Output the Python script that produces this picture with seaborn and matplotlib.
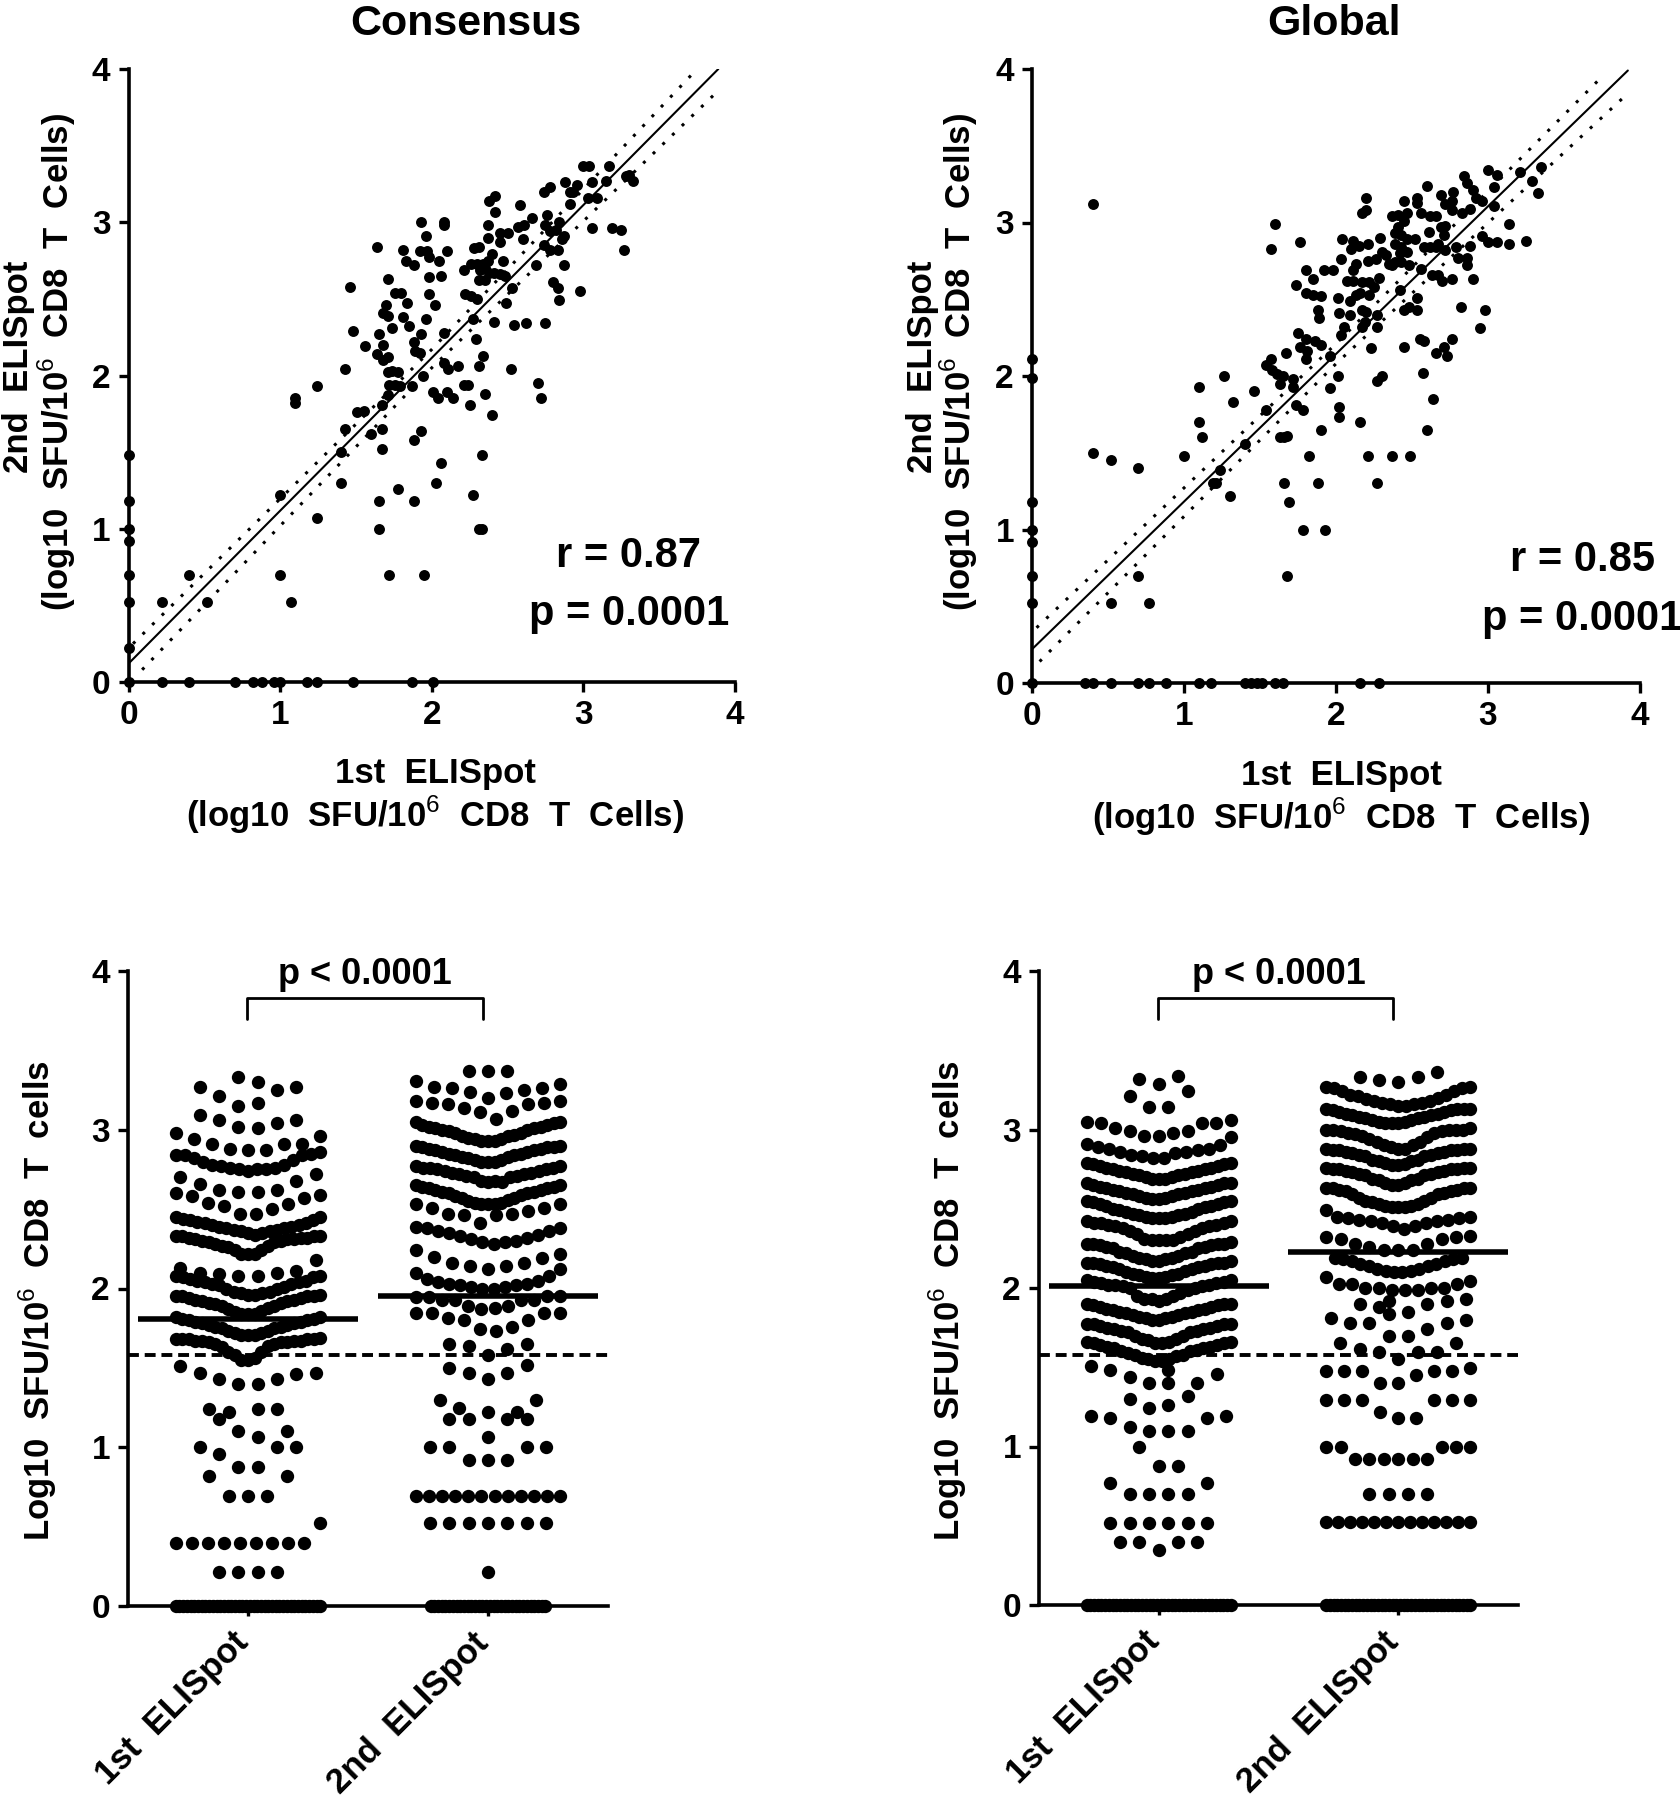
#!/usr/bin/env python3
"""Repeat ELISpot plots: 1st vs 2nd scatter and per-test dot columns, Consensus and Global."""
import matplotlib
matplotlib.use("Agg")
import matplotlib.pyplot as plt
from matplotlib.transforms import ScaledTranslation
import numpy as np
import seaborn as sns

W, H = 1680, 1800
FONT = "Liberation Sans"

# --- scatter panels: 1st ELISpot (x), 2nd ELISpot (y), log10 SFU
cons_x = [0,0,0,0,0,0,0,0, .22,.40,.70,.82,.88,.96,1.0,1.18,1.24,1.48,1.87,2.01,
          .22,.40,.52,1.0,1.07,1.0,1.24,1.10,1.10,1.24,1.40,1.40,1.43,1.43,1.46,1.48,1.51,1.55,1.56,1.60,
          1.64,1.65,1.65,1.65,1.67,1.67,1.67,1.68,1.64,1.68,1.71,1.71,1.70,1.68,1.71,1.74,1.71,1.74,1.78,
          1.72,1.76,1.79,1.71,1.72,1.78,1.76,1.80,1.81,1.83,1.88,1.84,1.81,1.85,1.88,1.89,1.92,1.93,1.87,
          1.88,1.93,1.88,1.95,1.93,1.96,1.92,1.97,1.98,2.05,2.10,1.98,2.06,1.98,2.02,1.96,1.94,2.01,2.04,
          2.08,2.08,2.08,2.08,2.11,2.17,2.10,2.14,2.03,2.06,2.21,2.24,2.25,2.27,2.31,2.33,2.33,2.35,2.40,
          2.31,2.34,2.29,2.27,2.22,2.26,2.30,2.21,2.26,2.30,2.34,2.37,2.40,2.28,2.31,2.32,2.35,2.38,2.41,
          2.45,2.48,2.31,2.35,2.47,2.37,2.37,2.38,2.42,2.42,2.45,2.50,2.45,2.53,2.49,2.41,2.54,2.62,2.52,
          2.75,2.70,2.72,2.58,2.57,2.61,2.66,2.60,2.74,2.78,2.76,2.75,2.78,2.82,2.84,2.74,2.78,2.83,2.87,
          2.86,2.69,2.87,2.80,2.83,2.84,2.98,2.88,2.91,2.96,2.93,2.91,3.06,3.03,3.09,3.0,3.04,3.17,3.15,
          3.06,3.19,3.25,3.27,3.28,3.33,3.30]
cons_y = [0,1.48,1.18,1.0,.92,.70,.52,.22, 0,0,0,0,0,0,0,0,0,0,0,0,
          .52,.70,.52,.70,.52,1.22,1.07,1.85,1.82,1.93,1.50,1.30,2.04,1.65,2.58,2.29,1.76,1.77,2.19,1.62,
          2.84,2.27,1.18,1.0,1.81,1.65,1.52,2.20,2.14,2.10,2.12,2.63,2.46,2.41,2.39,2.31,2.02,2.03,2.02,
          1.94,1.94,1.93,1.87,.70,1.26,2.54,2.54,2.82,2.75,2.72,2.47,2.38,2.32,2.22,2.16,2.15,2.27,1.93,
          1.58,1.64,1.18,.70,3.00,2.91,2.81,2.81,2.77,2.75,2.81,2.64,2.65,2.53,2.46,2.37,2.00,1.89,1.85,
          3.00,2.98,2.28,2.08,2.04,2.06,1.89,1.85,1.30,1.43,1.94,1.94,1.81,1.22,1.0,1.0,1.48,1.88,1.74,
          2.06,2.13,2.24,2.37,2.53,2.52,2.50,2.69,2.73,2.73,2.73,2.75,2.79,2.83,2.84,2.69,2.70,2.67,2.67,
          2.66,2.65,2.62,2.62,2.75,2.90,2.98,3.14,3.17,3.07,2.93,2.93,2.87,2.57,2.47,2.35,2.33,2.34,2.04,
          2.34,1.95,1.85,3.11,2.97,2.98,3.03,2.89,3.20,3.23,3.05,2.98,2.94,2.95,3.0,2.85,2.82,2.82,2.91,
          2.89,2.72,2.72,2.61,2.57,2.49,2.55,3.26,3.20,3.24,3.20,3.12,3.26,3.16,3.16,3.37,3.37,3.37,3.27,
          2.96,2.96,2.95,2.82,3.30,3.27,3.31]

glob_x = [0,0,0,0,0,0,0,0, .35,.40,.52,.70,.77,.88,1.10,1.18,1.40,1.44,1.48,1.51,1.60,1.65,2.16,2.28,
          .40,.40,.52,.70,.70,.52,.77,1.0,1.10,1.10,1.12,1.19,1.21,1.24,1.26,1.32,1.30,1.40,1.46,1.54,
          1.54,1.57,1.58,1.61,1.65,1.63,1.57,1.60,1.63,1.66,1.68,1.66,1.69,1.68,1.67,1.72,1.72,1.74,1.78,
          1.78,1.82,1.88,1.90,1.93,1.75,1.80,1.76,1.81,1.80,1.86,1.90,1.96,2.01,1.96,2.02,2.02,1.76,1.80,
          1.85,1.74,1.80,1.85,1.90,1.92,1.98,1.88,1.89,2.01,2.02,2.09,2.05,2.03,2.16,2.21,2.27,2.37,2.49,
          2.27,2.30,2.23,2.27,2.17,2.19,2.17,2.20,2.09,2.13,2.16,2.27,2.22,2.25,2.28,2.07,2.11,2.17,2.22,
          2.11,2.13,2.03,2.04,2.10,2.11,2.15,2.21,2.21,2.26,2.30,2.33,2.29,2.17,2.20,2.20,2.35,2.39,2.43,
          2.48,2.37,2.39,2.43,2.47,2.42,2.39,2.43,2.52,2.47,2.37,2.41,2.47,2.45,2.41,2.45,2.53,2.53,2.60,
          2.69,2.56,2.62,2.66,2.61,2.58,2.62,2.67,2.71,2.69,2.72,2.72,2.79,2.66,2.72,2.77,2.76,2.76,2.83,
          2.88,2.84,2.86,2.90,2.92,2.96,2.80,2.86,2.86,2.88,2.63,2.67,2.70,2.76,2.90,2.56,2.42,2.53,2.45,
          2.48,2.53,2.45,2.55,2.58,2.57,2.64,2.60,2.66,2.71,2.73,2.76,2.82,2.98,2.95,2.96,3.0,3.06,3.14,
          3.14,3.25,3.0,3.06,3.04,3.04,3.21,3.29,3.35,3.33]
glob_y = [0,2.11,1.99,1.18,1.0,.92,.70,.52, 0,0,0,0,0,0,0,0,0,0,0,0,0,0,0,0,
          3.12,1.50,1.45,1.40,.70,.52,.52,1.48,1.93,1.70,1.60,1.30,1.30,1.39,2.0,1.83,1.22,1.56,1.90,1.78,
          2.07,2.11,2.04,2.01,2.0,1.95,2.83,2.99,1.60,1.60,1.61,1.30,1.18,.70,2.15,1.98,1.93,1.81,1.78,
          1.0,1.48,1.30,1.65,1.0,2.28,2.24,2.19,2.16,2.11,2.23,2.20,2.13,2.0,1.92,1.80,1.73,2.87,2.69,
          2.63,2.59,2.54,2.53,2.52,2.69,2.69,2.43,2.38,2.51,2.41,2.40,2.32,2.27,1.70,1.48,1.30,1.48,1.48,
          1.97,2.0,2.18,2.32,2.32,2.35,2.43,2.42,2.49,2.53,2.54,2.40,2.53,2.58,2.64,2.62,2.62,2.61,2.61,
          2.69,2.73,2.76,2.89,2.83,2.88,2.85,2.86,2.75,2.76,2.81,2.79,2.90,3.06,3.08,3.16,2.73,2.74,2.74,
          2.72,2.72,2.86,2.84,2.81,2.80,2.93,2.92,2.89,2.89,3.04,3.05,3.06,3.01,2.97,3.14,3.16,3.13,3.24,
          3.18,3.06,3.04,3.04,2.94,2.84,2.84,2.86,2.92,2.97,2.98,2.82,2.84,2.84,3.12,3.20,3.14,3.08,3.06,
          3.09,3.30,3.26,3.21,3.16,3.14,2.77,2.77,2.72,2.85,2.66,2.66,2.62,2.63,2.63,2.70,2.56,2.51,2.43,
          2.45,2.43,2.19,2.24,2.23,2.02,1.85,1.65,2.15,2.19,2.13,2.24,2.45,2.43,2.31,2.91,2.87,2.87,2.99,
          2.86,2.88,3.34,3.31,3.23,3.11,3.33,3.27,3.36,3.19]

# regression line and its confidence limits
cons_fit_x, cons_fit_y = [0, 3.89], [.12, 4.0]
cons_hi_x, cons_hi_y = [.03, 2.0, 3.74], [.25, 2.17, 3.99]
cons_lo_x, cons_lo_y = [.09, 2.0, 3.87], [.08, 2.05, 3.84]
glob_fit_x, glob_fit_y = [0, 3.92], [.22, 3.99]
glob_hi_x, glob_hi_y = [.03, 2.0, 3.75], [.36, 2.21, 3.95]
glob_lo_x, glob_lo_y = [.05, 2.0, 3.93], [.14, 2.08, 3.85]

# --- dot columns, one list per row of dots, left to right (None is an empty slot)
cons_1st = [
    [3.27,3.21,3.33,3.30,3.25,3.27],
    [3.09,3.06,3.02,3.01,3.04,3.06],
    [3.15,3.17],
    [2.98,2.94,2.91,2.88,2.87,2.87,2.91,2.91,2.96],
    [2.84,2.84,2.82,2.80,2.78,2.77,2.76,2.75,2.74,2.75,2.75,2.76,2.78,2.81,2.84,2.85,2.86],
    [2.70,2.66,2.62,2.61,2.61,2.62,2.68,2.72],
    [2.60,2.58,2.54,2.52,2.47,2.47,2.50,2.53,2.57,2.59],
    [2.45,2.44,2.43,2.42,2.41,2.40,2.39,2.38,2.37,2.36,2.35,2.34,2.35,2.36,2.37,2.38,2.39,2.40,2.41,2.43,2.45],
    [2.33,2.33,2.32,2.31,2.30,2.29,2.28,2.27,2.26,2.24,2.22,2.22,2.22,2.24,2.27,2.29,2.30,2.31,2.31,2.32,2.32,2.33,2.33],
    [2.13,2.10,2.09,2.08,2.08,2.10,2.11,2.18],
    [2.08,2.07,2.06,2.05,2.04,2.03,2.02,2.00,1.98,1.97,1.96,1.96,1.97,1.98,2.00,2.01,2.03,2.04,2.05,2.07,2.08],
    [1.95,1.95,1.94,1.93,1.92,1.91,1.90,1.89,1.87,1.85,1.84,1.84,1.84,1.86,1.88,1.89,1.91,1.92,1.93,1.94,1.95,1.95,1.96],
    [1.82,1.81,1.80,1.79,1.78,1.77,1.76,1.75,1.73,1.72,1.71,1.71,1.71,1.72,1.73,1.75,1.76,1.77,1.78,1.79,1.80,1.81,1.82],
    [1.68,1.68,1.68,1.67,1.67,1.66,1.65,1.63,1.60,1.58,1.55,1.55,1.56,1.60,1.64,1.65,1.66,1.66,1.67,1.67,1.68,1.68,1.69],
    [1.51,1.47,1.43,1.40,1.40,1.43,1.46,1.47],
    [1.24,1.22,None,None,None],
    [None,1.18,None,1.24,1.24,None],
    [None,None,1.10,1.065,None,None],
    [None,None,None,None,1.10],
    [1.0,.955,None,None,1.0,1.0],
    [.875,.875],
    [.817,None,None,None,.817],
    [.695,.695,.695],
    [.40,.40,.40,.40,.40,.40,.40,.40,.40,.52],
    [.214,.214,.214,.214],
    [0.0] * 40,
]
cons_2nd = [
    [3.37,3.37,3.37],
    [3.31,3.27,3.26,3.24,3.20,3.23,3.25,3.26,3.29],
    [3.18,3.17,3.16,3.14,3.11,3.07,3.12,3.16,3.17,3.18],
    [3.05,3.03,3.02,3.01,3.00,2.99,2.98,2.96,2.95,2.94,2.93,2.93,2.93,2.94,2.96,2.97,2.98,3.00,3.01,3.02,3.03,3.04,3.05],
    [2.90,2.89,2.88,2.87,2.86,2.85,2.84,2.83,2.82,2.81,2.80,2.80,2.80,2.81,2.83,2.84,2.85,2.86,2.87,2.88,2.89,2.89,2.90],
    [2.77,2.76,2.76,2.75,2.74,2.73,2.72,2.71,2.70,2.68,2.67,2.68,2.67,2.70,2.71,2.72,2.73,2.74,2.75,2.76,2.77],
    [2.65,2.64,2.63,2.62,2.61,2.60,2.58,2.57,2.55,2.54,2.53,2.53,2.53,2.54,2.56,2.57,2.59,2.60,2.61,2.62,2.63,2.64,2.65],
    [2.53,2.51,2.47,2.46,2.41,2.46,2.47,2.49,2.51,2.53],
    [2.39,2.38,2.36,2.35,2.33,2.31,2.29,2.28,2.29,2.30,2.32,2.34,2.36,2.38],
    [2.24,2.20,2.16,2.14,2.12,2.14,2.16,2.19,2.22],
    [2.10,2.06,2.04,2.03,2.02,2.01,2.00,2.00,2.01,2.02,2.03,2.05,2.08,2.12],
    [1.945,1.945,1.93,1.925,1.89,1.87,1.875,1.89,1.925,1.93,1.95,1.95],
    [1.845,1.845,1.815,1.80,1.745,1.735,1.76,1.80,1.845,1.845],
    [1.65,1.64,1.58,1.62,1.65],
    [1.50,1.47,1.43,1.47,1.52],
    [1.30,1.25,None,None,1.22,1.30],
    [1.18,1.18,1.22,1.18,1.18],
    [1.065],
    [1.0,1.0,.92,.92,.92,1.0,1.0],
    [.695,.695,.695,.695,.695,.695,.695,.695,.695,.695,.695,.695],
    [.52,.52,.52,.52,.52,.52,.52],
    [.214],
    [None,None,None,None] + [0.0] * 32 + [None,None,None,None],
]
glob_1st = [
    [None,3.32,3.29,3.34,None],
    [3.21,3.14,3.14,3.24],
    [3.05,3.04,3.01,2.99,2.96,2.96,2.98,2.99,3.04,3.04,3.06],
    [2.91,2.89,2.88,2.86,2.84,2.83,2.82,2.82,2.85,2.86,2.87,2.88,2.90,2.95],
    [2.79,2.78,2.77,2.76,2.75,2.74,2.73,2.72,2.71,2.70,2.69,2.69,2.69,2.70,2.71,2.72,2.73,2.74,2.75,2.76,2.77,2.78,2.79],
    [2.66,2.65,2.64,2.63,2.62,2.61,2.60,2.59,2.58,2.57,2.56,2.56,2.57,2.58,2.59,2.60,2.61,2.62,2.63,2.64,2.65,2.66,2.66],
    [2.55,2.54,2.53,2.52,2.50,2.49,2.48,2.47,2.46,2.45,2.44,2.44,2.44,2.45,2.46,2.47,2.48,2.50,2.51,2.52,2.53,2.54,2.55],
    [2.42,2.41,2.41,2.40,2.39,2.38,2.36,2.34,2.31,2.30,2.30,2.30,2.30,2.32,2.34,2.36,2.38,2.39,2.40,2.41,2.42],
    [2.28,2.28,2.27,2.26,2.25,2.23,2.22,2.20,2.19,2.18,2.17,2.17,2.18,2.19,2.20,2.22,2.23,2.25,2.26,2.27,2.28,2.28,2.29],
    [2.16,2.16,2.15,2.14,2.13,2.12,2.10,2.09,2.08,2.07,2.06,2.06,2.07,2.08,2.09,2.11,2.12,2.13,2.14,2.15,2.16,2.16,2.17],
    [2.05,2.04,2.03,2.02,2.02,2.01,2.00,1.95,1.93,1.93,1.92,1.93,1.95,1.97,1.99,2.00,2.01,2.02,2.03,2.04,2.05],
    [1.90,1.89,1.88,1.87,1.86,1.85,1.84,1.83,1.82,1.81,1.80,1.80,1.81,1.82,1.83,1.84,1.85,1.86,1.87,1.88,1.89,1.90,1.90],
    [1.77,1.77,1.76,1.75,1.74,1.73,1.72,1.70,1.68,1.67,1.65,1.65,1.66,1.68,1.70,1.72,1.73,1.74,1.75,1.76,1.77,1.77],
    [1.66,1.65,1.64,1.63,1.62,1.60,1.59,1.58,1.56,1.55,1.54,1.54,1.55,1.57,1.58,1.60,1.61,1.62,1.63,1.64,1.65,1.66],
    [None,1.48],
    [1.51,1.48,1.44,1.40,1.40,None,None,None],
    [None,None,None,None,None,1.40,1.46],
    [1.30,1.24,1.26,1.32],
    [1.195,1.18,1.12,1.10,1.10,1.10,1.18,1.195],
    [1.0,None,None],
    [None,.88,.88],
    [.77,.70,.70,.70,.70,.77],
    [.52,.52,.52,.52,.52,.52],
    [.40,.40,.35,.40,.40],
    [0.0] * 40,
]
glob_2nd = [
    [3.33,3.31,3.30,3.33,3.36],
    [3.27,3.26,3.24,3.22,3.21,3.19,3.18,3.17,3.16,3.15,3.15,3.16,3.17,3.18,3.20,3.22,3.24,3.26,3.27],
    [3.13,3.12,3.11,3.10,3.09,3.08,3.07,3.06,3.05,3.04,3.04,3.04,3.05,3.06,3.07,3.08,3.09,3.10,3.11,3.12,3.13,3.13,3.13],
    [3.00,3.00,2.99,2.98,2.97,2.96,2.94,2.92,2.90,2.89,2.88,2.88,2.90,2.92,2.95,2.98,2.99,3.00,3.00,3.00,3.01],
    [2.88,2.87,2.87,2.86,2.85,2.84,2.83,2.81,2.80,2.79,2.775,2.775,2.78,2.80,2.81,2.83,2.84,2.85,2.86,2.87,2.87,2.88,2.88],
    [2.76,2.75,2.75,2.74,2.73,2.72,2.71,2.69,2.68,2.66,2.65,2.65,2.66,2.68,2.69,2.71,2.72,2.73,2.74,2.75,2.75,2.76,2.76],
    [2.63,2.63,2.62,2.61,2.59,2.57,2.55,2.54,2.53,2.52,2.51,2.51,2.51,2.52,2.53,2.55,2.57,2.59,2.60,2.61,2.62,2.63,2.63],
    [2.49,2.45,2.44,2.43,2.42,2.41,2.39,2.375,2.39,2.41,2.42,2.43,2.44,2.45],
    [2.32,2.31,2.28,2.26,2.24,2.24,2.24,2.28,2.31,2.32,2.33],
    [None,2.19,2.18,2.17,2.15,2.14,2.12,2.11,2.10,2.10,2.11,2.12,2.14,2.15,2.17,2.18,2.19,None],
    [2.07,2.025,2.025,2.00,2.00,1.985,1.985,1.985,2.00,2.00,2.025,2.045],
    [None,None,None,1.915,None,1.90,1.915,1.93],
    [None,1.90,1.88,None,None,None,None],
    [1.81,1.78,1.78,1.835,1.85,1.74,1.78,1.80],
    [1.70,1.70],
    [1.65,1.615,1.595,1.55,1.595,1.595,1.65],
    [1.475,1.475,1.475,1.40,1.40,1.45,1.475,1.475,1.495],
    [1.295,1.295,1.295,1.22,1.18,1.18,1.295,1.295,1.295],
    [1.0,1.0,.92,.92,.92,.92,.92,.92,1.0,1.0,1.0],
    [.70,.70,.70,.70],
    [.523,.523,.523,.523,.523,.523,.523,.523,.523,.523,.523,.523,.523],
    [0.0] * 40,
]

cons_means = [1.807, 1.95]
glob_means = [2.015, 2.227]
cutoff = 1.578
column_labels = ["1st  ELISpot", "2nd  ELISpot"]
xlabel_lines = ["1st  ELISpot", "(log10  SFU/10$^{6}$  CD8  T  Cells)"]
ylabel_lines = ["2nd  ELISpot", "(log10  SFU/10$^{6}$  CD8  T  Cells)"]
col_ylabel = "Log10  SFU/10$^{6}$  CD8  T  cells"
ticks = [0, 1, 2, 3, 4]

STEP = 0.0808
WIDTH = 0.602


def px_axes(fig, left, right, top, bottom):
    return fig.add_axes([left / W, 1 - bottom / H, (right - left) / W, (bottom - top) / H])


def ftext(fig, x, y, s, size, **kw):
    fig.text(x / W, 1 - y / H, s, fontsize=size, fontweight="bold", ha="center", va="center", **kw)


def style_axes(ax):
    sns.despine(ax=ax)
    for side in ("left", "bottom"):
        ax.spines[side].set_linewidth(2.6)
    ax.tick_params(width=2.4, length=7, labelsize=24, pad=6)
    ax.set_yticks(ticks)
    for lab in ax.get_yticklabels() + ax.get_xticklabels():
        lab.set_fontweight("bold")


def plot_scatter(ax, x, y, fit, hi, lo):
    sns.scatterplot(x=x, y=y, ax=ax, color="black", s=62, linewidth=0, clip_on=False, zorder=3)
    sns.lineplot(x=fit[0], y=fit[1], ax=ax, color="black", lw=1.5, errorbar=None)
    for xs, ys in (hi, lo):
        ax.plot(xs, ys, color="black", lw=2.2, linestyle=(0, (1, 3.4)))
    ax.set_xlim(0, 4)
    ax.set_ylim(0, 4)
    ax.set_xticks(ticks)
    style_axes(ax)


def row_positions(center, row):
    # Rows are spread evenly around the column centre, closer together once they get wide
    n = len(row)
    step = STEP if n < 2 else min(STEP, WIDTH / (n - 1))
    return [center + (i - (n - 1) / 2) * step for i in range(n)]


def plot_columns(ax, first, second, means, p_x):
    xs, ys = [], []
    for center, rows in enumerate((first, second)):
        for row in rows:
            for px, val in zip(row_positions(center, row), row):
                if val is not None:
                    xs.append(px)
                    ys.append(val)
    sns.scatterplot(x=xs, y=ys, ax=ax, color="black", s=92, linewidth=0, clip_on=False, zorder=3)
    for center, mean in enumerate(means):
        ax.hlines(mean, center - 0.46, center + 0.46, color="black", lw=4.0, zorder=4)
    ax.axhline(cutoff, color="black", lw=2.8, linestyle=(0, (2.8, 1.5)), zorder=4)
    ax.set_xlim(-0.5, 1.5)
    ax.set_ylim(0, 4)
    ax.set_xticks([0, 1])
    style_axes(ax)
    ax.set_xticklabels(column_labels, rotation=45, ha="right", rotation_mode="anchor",
                       fontsize=25, fontweight="bold")
    shift = ScaledTranslation(-16 / 100, -2 / 100, ax.figure.dpi_scale_trans)
    for lab in ax.get_xticklabels():
        lab.set_transform(lab.get_transform() + shift)
    ax.plot([-0.005, -0.005, 0.98, 0.98], [3.70, 3.83, 3.83, 3.70], color="black", lw=2.0, clip_on=False)
    ax.text(p_x, 3.98, "p < 0.0001", fontsize=26, fontweight="bold", ha="center", va="center", clip_on=False)


def main():
    sns.set_style("ticks")
    plt.rcParams["font.family"] = [FONT, "DejaVu Sans"]
    plt.rcParams["mathtext.fontset"] = "custom"
    plt.rcParams["mathtext.rm"] = FONT
    plt.rcParams["mathtext.bf"] = FONT + ":bold"
    plt.rcParams["text.color"] = "black"
    plt.rcParams["axes.edgecolor"] = "black"
    plt.rcParams["xtick.color"] = "black"
    plt.rcParams["ytick.color"] = "black"

    fig = plt.figure(figsize=(W / 100, H / 100), dpi=100, facecolor="white")

    ax1 = px_axes(fig, 128.5, 735, 69, 682)
    plot_scatter(ax1, cons_x, cons_y, (cons_fit_x, cons_fit_y), (cons_hi_x, cons_hi_y), (cons_lo_x, cons_lo_y))
    ax2 = px_axes(fig, 1032, 1640, 69, 683)
    plot_scatter(ax2, glob_x, glob_y, (glob_fit_x, glob_fit_y), (glob_hi_x, glob_hi_y), (glob_lo_x, glob_lo_y))
    ax3 = px_axes(fig, 128, 608, 971, 1606)
    plot_columns(ax3, cons_1st, cons_2nd, cons_means, 0.486)
    ax4 = px_axes(fig, 1039, 1518, 971, 1605)
    plot_columns(ax4, glob_1st, glob_2nd, glob_means, 0.5)

    ftext(fig, 466, 24, "Consensus", 31)
    ftext(fig, 1334, 24, "Global", 31)
    ftext(fig, 629, 556, "r = 0.87", 30)
    ftext(fig, 629, 614, "p = 0.0001", 30)
    ftext(fig, 1582, 560, "r = 0.85", 30)
    ftext(fig, 1582, 619, "p = 0.0001", 30)

    for cx, top in ((435, 773), (1341, 775)):
        ftext(fig, cx, top, xlabel_lines[0], 25)
        ftext(fig, cx, top + 42, xlabel_lines[1], 25)
    for left, cy in ((19, 367), (922, 367)):
        ftext(fig, left, cy, ylabel_lines[0], 25, rotation=90)
    for left, cy in ((57, 362), (959, 362)):
        ftext(fig, left, cy, ylabel_lines[1], 25, rotation=90)
    ftext(fig, 38, 1301, col_ylabel, 25, rotation=90)
    ftext(fig, 948, 1301, col_ylabel, 25, rotation=90)

    fig.savefig("out.png", dpi=100, facecolor="white")


if __name__ == "__main__":
    main()
